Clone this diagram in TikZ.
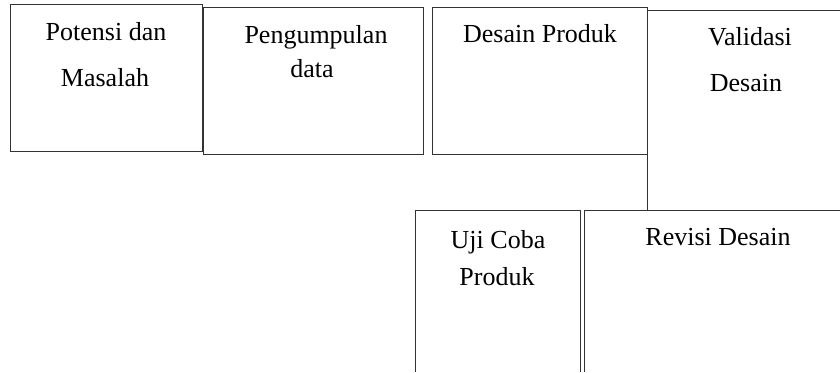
\documentclass[tikz,border=0pt]{standalone}
\usepackage{fontspec}
\setmainfont{Liberation Serif}
\begin{document}
\begin{tikzpicture}[x=0.5pt,y=-0.5pt,
  boxline/.style={draw=black!80, line width=0.5pt},
  lbl/.style={anchor=base, inner sep=0pt, font=\fontsize{13}{15}\selectfont}]
\useasboundingbox (0,0) rectangle (840,372);
% boxes
\draw[boxline] (10,4) rectangle (202,151);
\draw[boxline] (203,7) rectangle (423,154);
\draw[boxline] (432,7) rectangle (647,154);
\draw[boxline] (840,10) -- (647,10) -- (647,210);
\draw[boxline] (415,372) -- (415,210) -- (580,210) -- (580,372);
\draw[boxline] (584,372) -- (584,210) -- (840,210);
% labels
\node[lbl] (p1) at (106,40) {Potensi dan};
\node[lbl] (p2) at (105,86) {Masalah};
\node[lbl] (g1) at (316,43) {Pengumpulan};
\node[lbl] (g2) at (312,77) {data};
\node[lbl] (d1) at (540,42) {Desain Produk};
\node[lbl] (v1) at (750,45) {Validasi};
\node[lbl] (v2) at (746,91) {Desain};
\node[lbl] (u1) at (498,248) {Uji Coba};
\node[lbl] (u2) at (497,285) {Produk};
\node[lbl] (r1) at (718,245) {Revisi Desain};
\end{tikzpicture}
\end{document}
